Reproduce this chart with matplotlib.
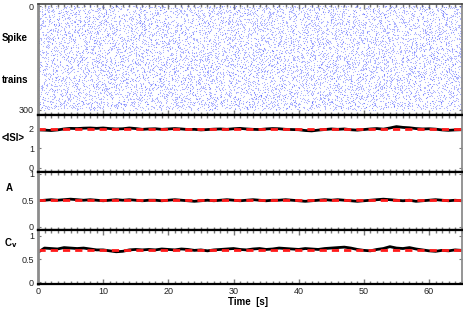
import numpy as np
import matplotlib
matplotlib.use("Agg")
import matplotlib.pyplot as plt
from matplotlib.ticker import MultipleLocator, FixedLocator

plt.rcParams['font.family'] = ['Liberation Sans', 'DejaVu Sans']

# time axis of the running estimates (s)
t = np.arange(0, 66)

isi_est = [1.95, 1.94, 1.92, 1.95, 2.00, 2.03, 2.02, 2.04, 2.05, 2.03,
           2.05, 2.02, 2.00, 2.01, 2.05, 2.02, 1.98, 2.00, 2.01, 1.98,
           2.00, 2.02, 2.00, 1.97, 1.98, 1.95, 1.97, 1.99, 2.00, 1.98,
           2.01, 2.03, 2.00, 1.98, 1.97, 2.00, 2.02, 2.01, 1.98, 1.97,
           1.96, 1.92, 1.90, 1.94, 1.97, 2.00, 1.98, 2.00, 1.96, 1.94,
           1.97, 2.00, 2.02, 1.99, 2.05, 2.12, 2.08, 2.06, 2.02, 2.00,
           2.01, 1.99, 1.95, 1.93, 1.95, 1.96]
a_est = [0.49, 0.50, 0.51, 0.50, 0.51, 0.52, 0.51, 0.50, 0.51, 0.50,
         0.49, 0.50, 0.51, 0.50, 0.51, 0.50, 0.49, 0.50, 0.50, 0.49,
         0.50, 0.51, 0.50, 0.49, 0.48, 0.49, 0.50, 0.49, 0.50, 0.51,
         0.50, 0.49, 0.50, 0.51, 0.50, 0.49, 0.50, 0.50, 0.51, 0.50,
         0.49, 0.48, 0.49, 0.50, 0.51, 0.50, 0.51, 0.50, 0.49, 0.48,
         0.49, 0.50, 0.51, 0.52, 0.51, 0.50, 0.49, 0.50, 0.48, 0.49,
         0.50, 0.51, 0.50, 0.49, 0.50, 0.49]
cv_est = [0.65, 0.74, 0.73, 0.72, 0.75, 0.74, 0.73, 0.74, 0.72, 0.70,
          0.70, 0.68, 0.66, 0.67, 0.70, 0.71, 0.70, 0.71, 0.70, 0.72,
          0.71, 0.70, 0.72, 0.71, 0.69, 0.70, 0.68, 0.70, 0.71, 0.72,
          0.73, 0.71, 0.70, 0.72, 0.73, 0.71, 0.72, 0.74, 0.73, 0.72,
          0.71, 0.73, 0.72, 0.71, 0.73, 0.74, 0.75, 0.76, 0.74, 0.71,
          0.69, 0.68, 0.71, 0.73, 0.77, 0.74, 0.73, 0.75, 0.72, 0.70,
          0.68, 0.67, 0.69, 0.68, 0.70, 0.69]

# true parameter values (red dashed)
isi_true = 2.0
a_true = 0.5
cv_true = 0.7

n_trains = 300
t_max = 65

# spike raster: individual spikes are not readable from the picture,
# so a fixed-seed gamma process with the plotted parameters stands in
rng = np.random.default_rng(7)
shape = 1.0 / cv_true ** 2
spk_t, spk_n = [], []
for n in range(n_trains):
    isis = rng.gamma(shape, isi_true / shape, size=60)
    times = np.cumsum(isis) - rng.uniform(0, isi_true)
    times = times[(times >= 0) & (times <= t_max)]
    spk_t.append(times)
    spk_n.append(np.full(len(times), n))
spk_t = np.concatenate(spk_t)
spk_n = np.concatenate(spk_n)

W, H = 463, 311
fig = plt.figure(figsize=(W / 100, H / 100), dpi=100)

x0, x1 = 38, 461.6


def add_panel(top, bottom):
    return fig.add_axes([x0 / W, 1 - bottom / H, (x1 - x0) / W, (bottom - top) / H])


gray = '#7a7a7a'


def style(ax, first=False, last=False):
    ax.set_xlim(0, t_max)
    ax.xaxis.set_major_locator(MultipleLocator(10))
    ax.xaxis.set_minor_locator(MultipleLocator(1))
    ax.tick_params(axis='x', which='both', direction='in', top=True, bottom=True,
                   color=gray, width=1.0, labelbottom=last, labelsize=6.5,
                   labelcolor='#222222', pad=2.5)
    ax.tick_params(axis='x', which='minor', length=2.4)
    ax.tick_params(axis='x', which='major', length=2.4)
    if first:
        ax.tick_params(axis='x', which='major', top=True, length=3.8)
    if last:
        ax.tick_params(axis='x', which='major', bottom=True, length=3.8)
    ax.tick_params(axis='y', which='both', direction='in', left=True, right=True,
                   color=gray, width=0.8, length=2.2, labelsize=6.5,
                   labelcolor='#222222', pad=3)
    ax.spines['left'].set_color('#8c8c8c')
    ax.spines['left'].set_linewidth(2.0)
    ax.spines['right'].set_color('#8c8c8c')
    ax.spines['right'].set_linewidth(1.3)
    ax.spines['top'].set_color('black' if not first else '#444444')
    ax.spines['top'].set_linewidth(1.6 if not first else 1.2)
    ax.spines['bottom'].set_color('black')
    ax.spines['bottom'].set_linewidth(1.6)


# raster
ax0 = add_panel(4, 114.7)
ax0.plot(spk_t, spk_n, linestyle='none', marker='s', ms=0.75, mew=0,
         color='#3344ff', alpha=0.38)
ax0.set_ylim(314, -6)
ax0.yaxis.set_major_locator(FixedLocator([0, 300]))
style(ax0, first=True)

# <ISI>
ax1 = add_panel(114.7, 171.5)
ax1.plot(t, isi_est, color='black', lw=2.0)
ax1.axhline(isi_true, color='#ff1a1a', lw=2.0, dashes=(2.6, 1.8))
ax1.set_ylim(-0.18, 2.73)
ax1.yaxis.set_major_locator(FixedLocator([0, 1, 2]))
style(ax1)

# A
ax2 = add_panel(171.5, 229.5)
ax2.plot(t, a_est, color='black', lw=2.0)
ax2.axhline(a_true, color='#ff1a1a', lw=2.0, dashes=(2.6, 1.8))
ax2.set_ylim(-0.05, 1.04)
ax2.yaxis.set_major_locator(FixedLocator([0, 0.5, 1]))
ax2.yaxis.set_major_formatter(plt.FuncFormatter(lambda v, p: f'{v:g}'))
style(ax2)

# Cv
ax3 = add_panel(229.5, 284)
ax3.plot(t, cv_est, color='black', lw=2.0)
ax3.axhline(cv_true, color='#ff1a1a', lw=2.0, dashes=(2.6, 1.8))
ax3.set_ylim(-0.035, 1.14)
ax3.yaxis.set_major_locator(FixedLocator([0, 0.5, 1]))
ax3.yaxis.set_major_formatter(plt.FuncFormatter(lambda v, p: f'{v:g}'))
style(ax3, last=True)

# panel labels
lab = dict(fontsize=7, fontweight='bold', ha='center', va='center')
fig.text(15 / W, 1 - 38 / H, 'Spike', **lab)
fig.text(15 / W, 1 - 80 / H, 'trains', **lab)
fig.text(13 / W, 1 - 138 / H, '<ISI>', **lab)
fig.text(9 / W, 1 - 188 / H, 'A', **lab)
fig.text(11 / W, 1 - 243 / H, r'C$_\mathbf{v}$', **lab)
fig.text(248 / W, 1 - 302 / H, 'Time  [s]', **lab)

fig.savefig('out.png', dpi=100)
